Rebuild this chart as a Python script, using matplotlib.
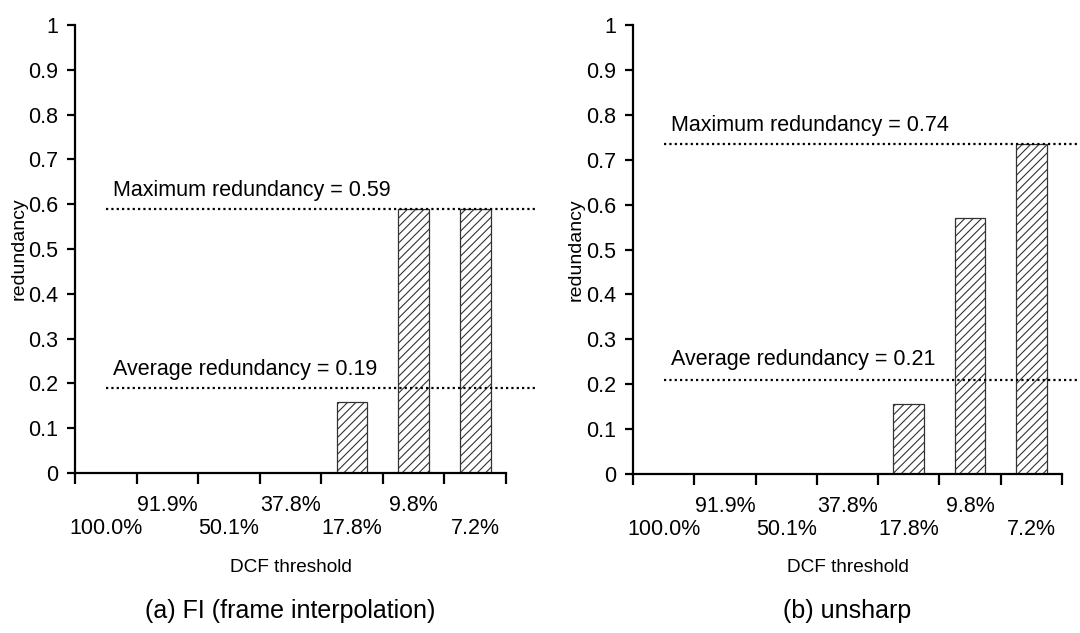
import matplotlib
matplotlib.use("Agg")
import matplotlib.pyplot as plt

plt.rcParams['font.family'] = ['Liberation Sans', 'DejaVu Sans']
plt.rcParams['hatch.linewidth'] = 0.8
plt.rcParams['hatch.color'] = '#222222'

# ---- data ----
thresholds = ['100.0%', '91.9%', '50.1%', '37.8%', '17.8%', '9.8%', '7.2%']
fi_redundancy = [0, 0, 0, 0, 0.158, 0.59, 0.59]
unsharp_redundancy = [0, 0, 0, 0, 0.156, 0.57, 0.735]
fi_max_label, fi_avg = '0.59', 0.19
unsharp_max_label, unsharp_avg = '0.74', 0.21
panel_titles = ['(a) FI (frame interpolation)', '(b) unsharp']

W, H = 1080, 633
fig = plt.figure(figsize=(W / 100, H / 100), dpi=100)
fig.patch.set_facecolor('white')


def px_axes(x0, x1, ytop, ybot):
    return fig.add_axes([x0 / W, 1 - ybot / H, (x1 - x0) / W, (ybot - ytop) / H])


def draw_panel(ax, values, max_label, vavg, max_off, avg_off):
    n = len(thresholds)
    pos = list(range(n))
    ax.bar(pos, values, width=0.5, facecolor='white', edgecolor='#333333',
           linewidth=0.9, hatch='////', zorder=2)

    ax.set_xlim(-0.5, n - 0.5)
    ax.set_ylim(0, 1)

    # boundary ticks (marks only)
    ax.set_xticks([i - 0.5 for i in range(n + 1)], minor=True)
    ax.tick_params(axis='x', which='minor', direction='out', length=8,
                   width=1.6, color='black')
    # staggered category labels
    labels = [t if i % 2 == 1 else '\n' + t for i, t in enumerate(thresholds)]
    ax.set_xticks(pos)
    ax.set_xticklabels(labels, fontsize=15.5, linespacing=1.08)
    ax.tick_params(axis='x', which='major', length=0, pad=16)

    ax.set_yticks([i / 10 for i in range(11)])
    ax.set_yticklabels(['0'] + [f'{i / 10:.1f}' for i in range(1, 10)] + ['1'],
                       fontsize=15.5)
    ax.tick_params(axis='y', direction='out', length=6, width=1.6, pad=6)

    for side in ('top', 'right'):
        ax.spines[side].set_visible(False)
    for side in ('left', 'bottom'):
        ax.spines[side].set_linewidth(1.6)

    vmax = max(values)
    for val, txt, off in ((vmax, f'Maximum redundancy = {max_label}', max_off),
                          (vavg, f'Average redundancy = {vavg:.2f}', avg_off)):
        ax.plot([0.0, n], [val, val], color='black', linewidth=1.6,
                linestyle=(0, (1.0, 1.4)), clip_on=False, zorder=3)
        ax.text(0.12, val + off, txt, fontsize=15.5, ha='left', va='baseline')


ax1 = px_axes(75, 506, 25, 473)
draw_panel(ax1, fi_redundancy, fi_max_label, fi_avg, 0.028, 0.028)

ax2 = px_axes(633, 1062, 25, 474)
draw_panel(ax2, unsharp_redundancy, unsharp_max_label, unsharp_avg, 0.028, 0.033)

for ax, title, ylx in ((ax1, panel_titles[0], 19), (ax2, panel_titles[1], 576)):
    bb = ax.get_position()
    cx = (bb.x0 + bb.x1) / 2
    fig.text(cx, 1 - 568 / H, 'DCF threshold', fontsize=13.7,
             ha='center', va='center')
    fig.text(cx, 1 - 611 / H, title, fontsize=18, ha='center', va='center')
    fig.text(ylx / W, (bb.y0 + bb.y1) / 2, 'redundancy', fontsize=14,
             rotation=90, ha='center', va='center')

fig.savefig('out.png', dpi=100, facecolor='white')
